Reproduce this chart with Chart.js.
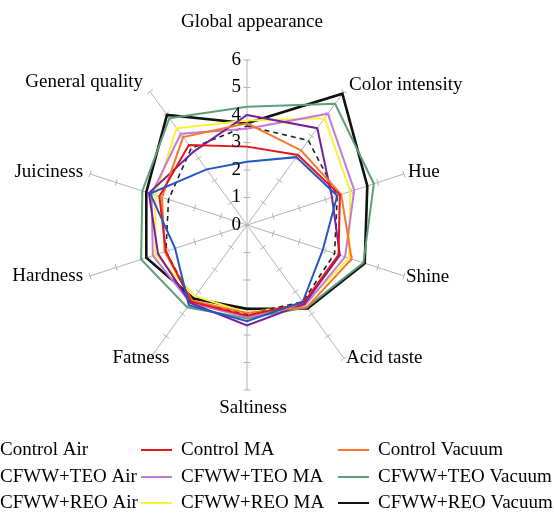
<!DOCTYPE html>
<html>
<head>
<meta charset="utf-8">
<script src="https://cdn.jsdelivr.net/npm/chart.js@4/dist/chart.umd.min.js"></script>
<style>
  html, body { margin: 0; padding: 0; background: #fff; }
  canvas { display: block; }
</style>
</head>
<body>
<canvas id="chart" width="554" height="514"></canvas>
<script>
// attributes, clockwise from the top
const attributes = ["Global appearance", "Color intensity", "Hue", "Shine", "Acid taste",
    "Saltiness", "Fatness", "Hardness", "Juiciness", "General quality"];
const tickValues = [0, 1, 2, 3, 4, 5, 6];

const controlAir = [2.3, 3.05, 3.45, 2.9, 3.45, 3.5, 3.6, 2.75, 3.7, 2.5];
const controlMA = [2.85, 3.15, 3.55, 3.5, 3.5, 3.3, 3.45, 3.1, 3.35, 3.6];
const controlVacuum = [3.7, 3.35, 3.6, 4.0, 3.7, 3.2, 3.4, 3.15, 3.25, 3.95];
const teoAir = [4.0, 4.35, 3.25, 3.55, 3.55, 3.65, 3.5, 3.4, 3.75, 3.3];
const teoMA = [3.5, 5.0, 4.1, 3.75, 3.6, 3.35, 3.5, 3.6, 3.65, 4.1];
const teoVacuum = [4.3, 5.45, 4.85, 4.45, 3.7, 3.4, 3.7, 4.05, 4.0, 4.8];
const reoAir = [3.6, 3.8, 3.45, 3.35, 3.45, 3.25, 3.4, 3.1, 3.0, 3.45];
const reoMA = [3.8, 4.8, 3.95, 3.9, 3.55, 3.2, 3.2, 3.5, 3.5, 4.35];
const reoVacuum = [3.7, 5.9, 4.6, 4.5, 3.75, 3.05, 3.3, 3.85, 3.85, 4.95];

const FONT = "19px 'Liberation Serif', 'Times New Roman', serif";
const GRID = "#b3b3b3";

const series = [
    { label: "Control Air", data: controlAir, color: "#2456c4" },
    { label: "Control MA", data: controlMA, color: "#e3161c" },
    { label: "Control Vacuum", data: controlVacuum, color: "#f7782a" },
    { label: "CFWW+TEO Air", data: teoAir, color: "#74229a" },
    { label: "CFWW+TEO MA", data: teoMA, color: "#c77ad4" },
    { label: "CFWW+TEO Vacuum", data: teoVacuum, color: "#5f9e78" },
    { label: "CFWW+REO Air", data: reoAir, color: "#222222", dash: [5, 4], width: 1.6 },
    { label: "CFWW+REO MA", data: reoMA, color: "#fbf03a" },
    { label: "CFWW+REO Vacuum", data: reoVacuum, color: "#111111", width: 2.6 },
];

// label placement relative to the end of each spoke: [align, dx, dy]
const labelPlace = [
    ["center", 5, -38], ["left", 5, -6], ["left", 4, -2], ["left", 2, 1], ["left", 2, 0],
    ["center", 6, 18], ["center", -9, 0], ["right", -7, 0], ["right", -7, -2], ["right", -7, -9],
];

const legendCols = [0, 181, 378];
const legendRows = [450, 477, 503];

const radarDecor = {
    id: "radarDecor",
    beforeDatasetsDraw(chart) {
        const r = chart.scales.r;
        const ctx = chart.ctx;
        ctx.save();
        ctx.strokeStyle = GRID;
        ctx.lineWidth = 1;
        attributes.forEach((_, i) => {
            const end = r.getPointPosition(i, r.drawingArea);
            const ux = (end.x - r.xCenter) / r.drawingArea;
            const uy = (end.y - r.yCenter) / r.drawingArea;
            tickValues.slice(1).forEach((v) => {
                const p = r.getPointPosition(i, r.getDistanceFromCenterForValue(v));
                ctx.beginPath();
                ctx.moveTo(p.x - uy * 3.5, p.y + ux * 3.5);
                ctx.lineTo(p.x + uy * 3.5, p.y - ux * 3.5);
                ctx.stroke();
            });
        });
        ctx.restore();
    },
    afterDraw(chart) {
        const r = chart.scales.r;
        const ctx = chart.ctx;
        ctx.save();
        ctx.font = FONT;
        ctx.fillStyle = "#000";
        ctx.textBaseline = "middle";

        // value labels left of the top spoke
        ctx.textAlign = "right";
        tickValues.forEach((v) => {
            const p = r.getPointPosition(0, r.getDistanceFromCenterForValue(v));
            ctx.fillText(String(v), p.x - 6, p.y);
        });

        // attribute labels
        attributes.forEach((name, i) => {
            const end = r.getPointPosition(i, r.drawingArea);
            const [align, dx, dy] = labelPlace[i];
            ctx.textAlign = align;
            ctx.fillText(name, end.x + dx, end.y + dy);
        });

        // legend, three columns
        ctx.textAlign = "left";
        chart.data.datasets.forEach((ds, i) => {
            const x = legendCols[i % 3];
            const y = legendRows[Math.floor(i / 3)];
            ctx.strokeStyle = ds.borderColor;
            ctx.lineWidth = 2;
            ctx.setLineDash(ds.borderDash || []);
            ctx.beginPath();
            ctx.moveTo(x - 40, y);
            ctx.lineTo(x - 9, y);
            ctx.stroke();
            ctx.setLineDash([]);
            ctx.fillText(ds.label, x, y);
        });
        ctx.restore();
    },
};

new Chart(document.getElementById("chart"), {
    type: "radar",
    data: {
        labels: attributes,
        datasets: series.map((s) => ({
            label: s.label,
            data: s.data,
            borderColor: s.color,
            backgroundColor: s.color,
            borderWidth: s.width || 2,
            borderDash: s.dash || [],
            fill: false,
            tension: 0,
            pointRadius: 0,
            pointHoverRadius: 0,
        })),
    },
    options: {
        responsive: false,
        animation: false,
        devicePixelRatio: 1,
        layout: {
            padding: { left: 0, right: 60, top: 60, bottom: 124 },
        },
        scales: {
            r: {
                min: 0,
                max: 6,
                ticks: { stepSize: 1, display: false },
                grid: { display: false },
                angleLines: { display: true, color: GRID, lineWidth: 1 },
                pointLabels: { display: false },
            },
        },
        plugins: {
            legend: { display: false },
            tooltip: { enabled: false },
        },
    },
    plugins: [radarDecor],
});
</script>
</body>
</html>
